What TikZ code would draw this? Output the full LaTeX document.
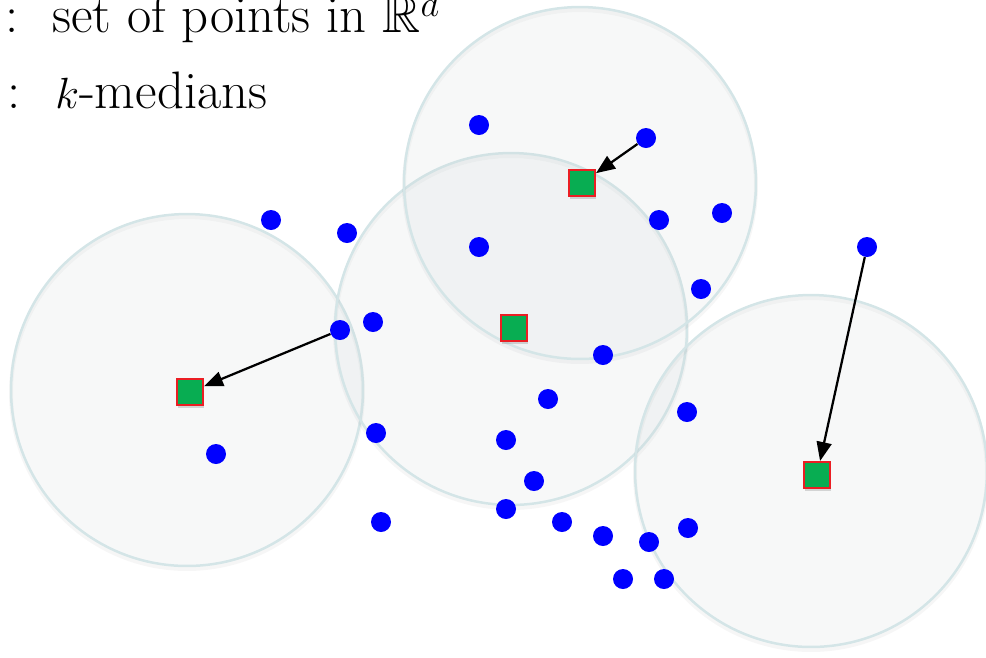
\documentclass[tikz,border=0pt]{standalone}
\usepackage{amssymb}
\usetikzlibrary{arrows.meta,shadows}

\definecolor{bleu}{RGB}{0,0,255}
\definecolor{vert}{RGB}{8,173,82}
\definecolor{rouge}{RGB}{235,30,35}
\definecolor{bord}{RGB}{212,229,231}
\definecolor{fond}{RGB}{205,214,216}

\tikzset{
  zone/.style={fill=fond, fill opacity=0.17, draw=bord, line width=0.05cm},
  ombre/.style={draw=black, draw opacity=0.035, line width=0.08cm},
  pt/.style={circle, fill=bleu, inner sep=0pt, minimum size=0.4cm},
  centre/.style={rectangle, fill=vert, draw=rouge, line width=0.04cm, minimum size=0.52cm, inner sep=0pt,
    drop shadow={opacity=0.3, shadow xshift=0.02cm, shadow yshift=-0.06cm}},
  fleche/.style={-{Triangle[length=0.38cm,width=0.3cm]}, line width=0.045cm, black},
  txt/.style={font=\fontsize{30}{34}\selectfont, inner sep=0pt}
}

\begin{document}
\begin{tikzpicture}[x=0.02cm, y=-0.02cm] % 1 unité = 1 pixel, axe y vers le bas
  \useasboundingbox (0,0) rectangle (986,657);

  % Légende
  \node[txt, anchor=base] (col1) at (12,32) {:};
  \node[txt, anchor=base west] (lab1) at (52,32) {set of points in $\mathbb{R}^d$};
  \node[txt, anchor=base] (col2) at (14,108) {:};
  \node[txt, anchor=base west] (lab2) at (55,108) {$k$-medians};

  % Boules autour des centres
  \foreach \x/\y [count=\i] in {187/390, 511/329, 580/183, 811/471} {
    \draw[ombre] (\x,\y+3) circle[radius=3.52cm];
    \draw[zone] (\x,\y) coordinate (z\i) circle[radius=3.52cm];
  }

  % Points
  \foreach \x/\y [count=\i] in {479/125, 646/138, 271/220, 347/233, 659/220, 722/213, 479/247,
      867/247, 701/289, 340/330, 373/322, 603/355, 548/399, 216/454, 376/433, 687/412, 506/440,
      534/481, 381/522, 506/509, 562/522, 603/536, 649/542, 688/528, 623/579, 664/579} {
    \node[pt] (p\i) at (\x,\y) {};
  }

  % Médianes
  \node[centre] (m1) at (190,392) {};
  \node[centre] (m2) at (514,328) {};
  \node[centre] (m3) at (582,183) {};
  \node[centre] (m4) at (817,475) {};

  % Affectations
  \draw[fleche] (p10) -- (m1);
  \draw[fleche] (p2) -- (m3);
  \draw[fleche] (p8) -- (m4);
\end{tikzpicture}
\end{document}
